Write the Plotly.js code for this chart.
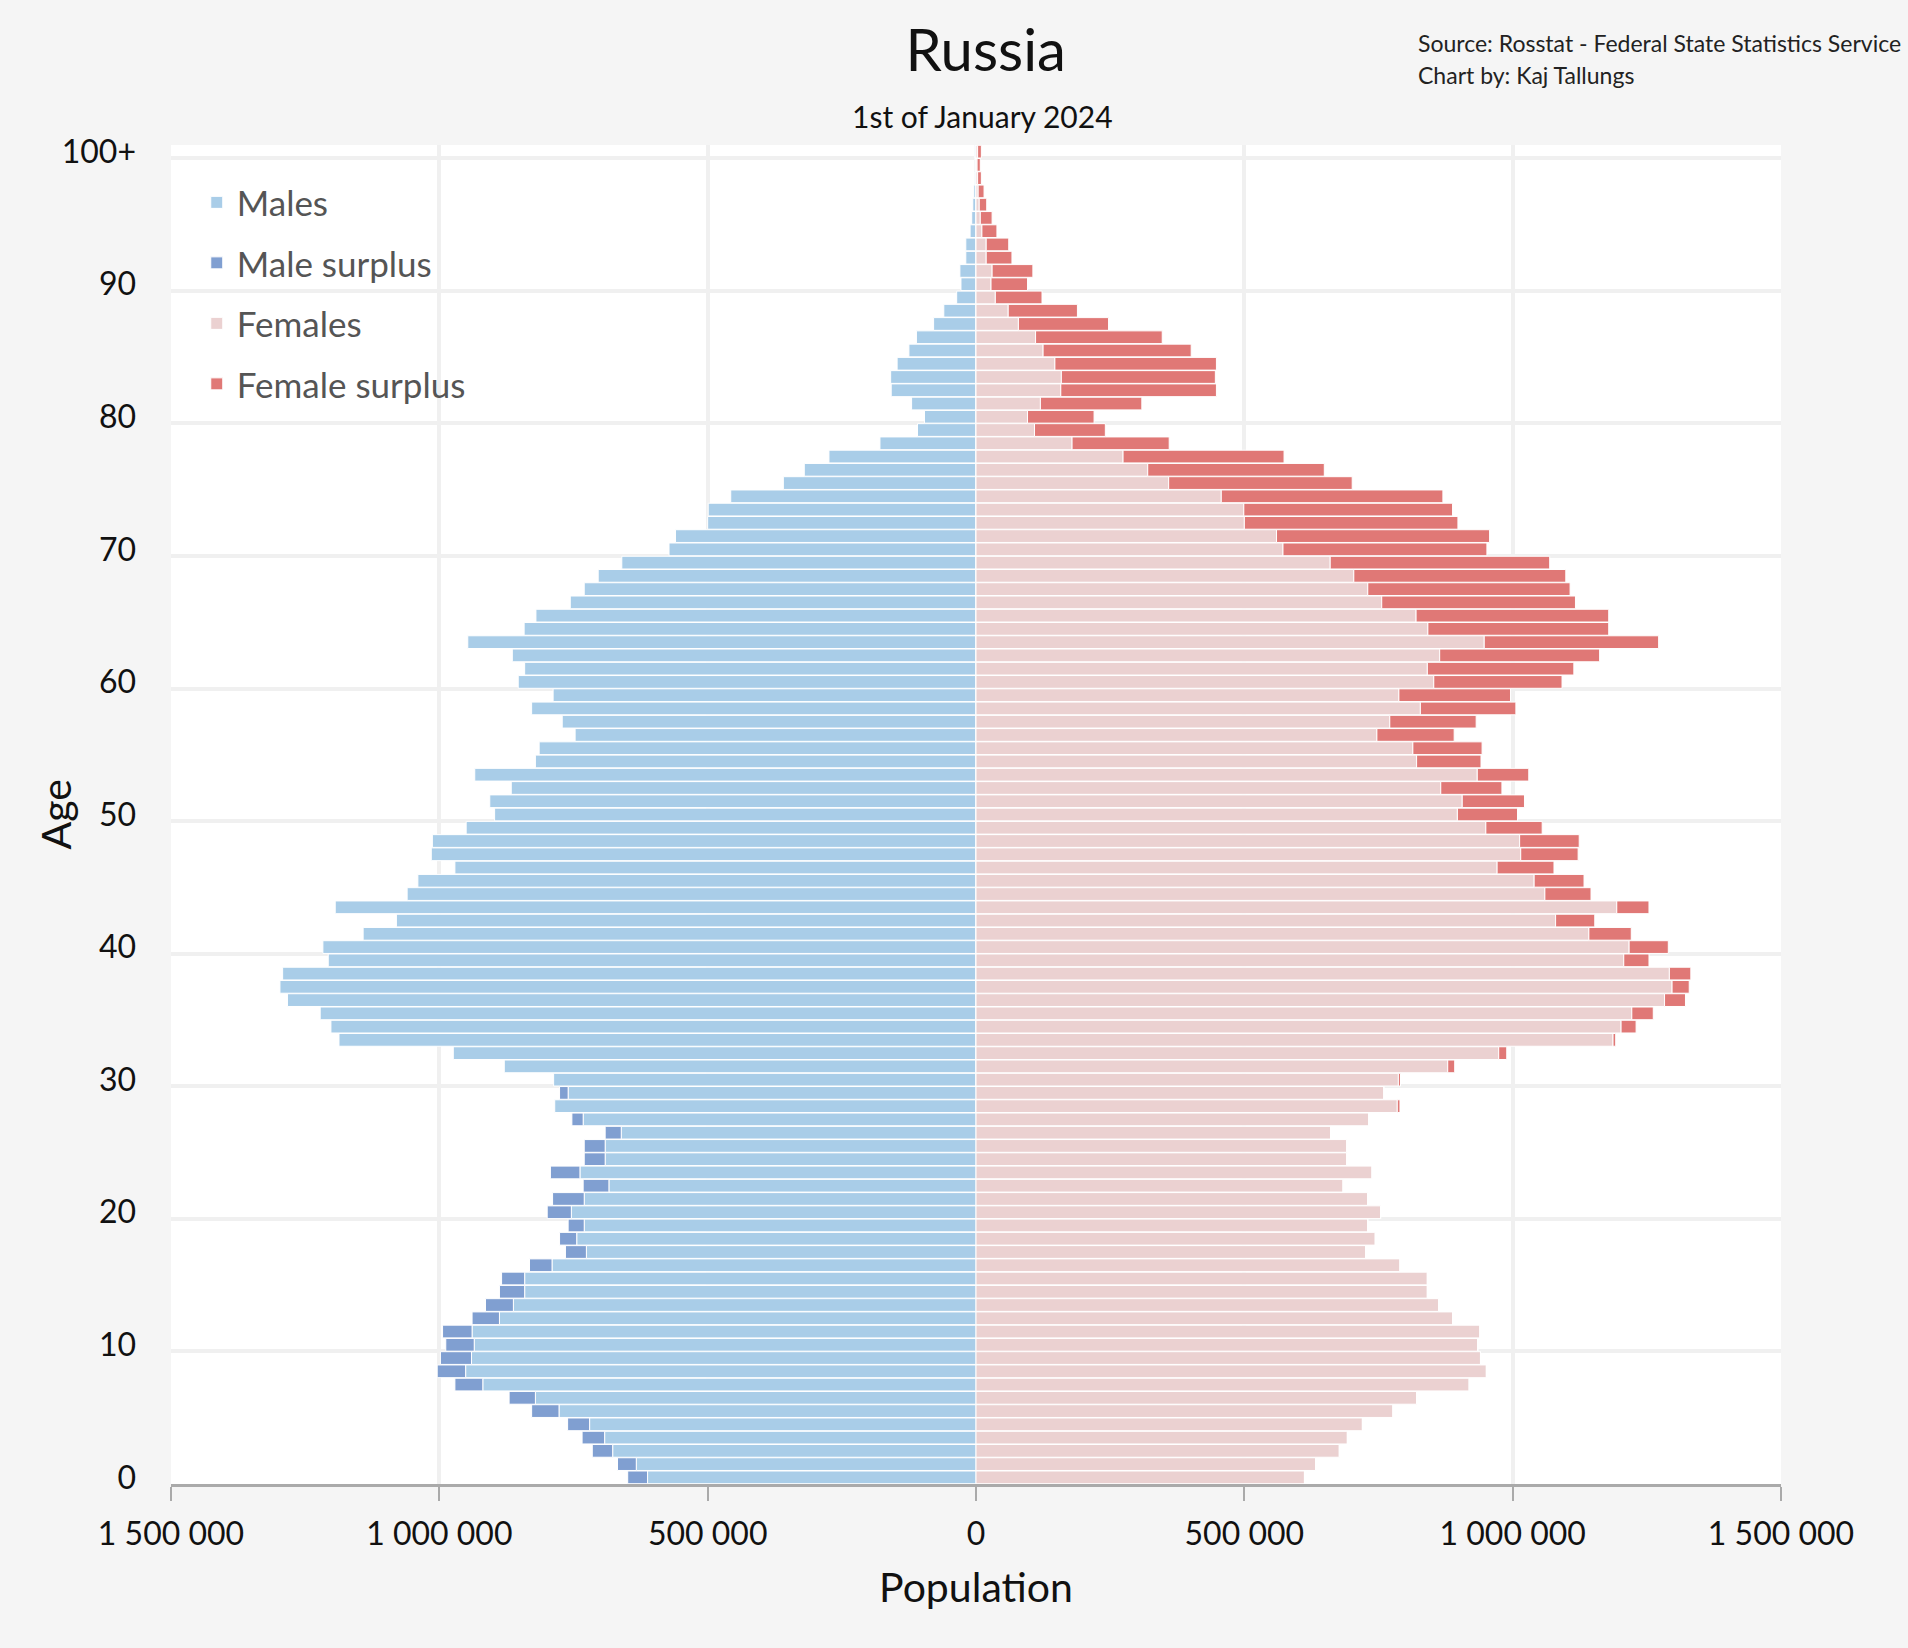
<!DOCTYPE html>
<html>
<head>
<meta charset="utf-8">
<script src="https://cdn.plot.ly/plotly-3.0.1.min.js"></script>
<style>
  html, body { margin: 0; padding: 0; background: #f5f5f5; }
  #chart { width: 1908px; height: 1648px; }
</style>
</head>
<body>
<div id="chart"></div>
<script>
/* -------------------- Data (thousands) -------------------- */

const ages = Array.from({ length: 101 }, (_, i) => i);

// age 0 .. 100+
const malesK = [
  649, 668, 715, 734, 761, 828, 870, 971, 1004, 998,
  988, 994, 939, 914, 888, 884, 832, 765, 776, 760,
  799, 789, 732, 793, 730, 730, 691, 753, 785, 776,
  787, 879, 974, 1187, 1202, 1222, 1283, 1297, 1292, 1207,
  1217, 1142, 1080, 1194, 1060, 1040, 971, 1015, 1013, 950,
  897, 906, 866, 934, 821, 814, 747, 771, 828, 788,
  853, 841, 864, 947, 842, 820, 756, 730, 704, 660,
  572, 560, 500, 499, 457, 359, 320, 274, 179, 109,
  96, 120, 158, 159, 147, 125, 111, 79, 60, 36,
  28, 30, 19, 19, 11, 8, 6, 4, 3, 2,
  3,
];

const femalesK = [
  612, 633, 677, 692, 720, 777, 821, 919, 951, 940,
  935, 939, 888, 862, 841, 841, 790, 726, 744, 730,
  754, 730, 684, 738, 691, 691, 661, 732, 790, 760,
  791, 892, 989, 1192, 1230, 1262, 1322, 1329, 1332, 1254,
  1290, 1221, 1153, 1254, 1146, 1133, 1077, 1122, 1124, 1055,
  1009, 1022, 980, 1030, 941, 943, 891, 932, 1006, 996,
  1092, 1114, 1162, 1272, 1179, 1179, 1117, 1107, 1099, 1069,
  952, 957, 898, 888, 870, 701, 649, 574, 360, 241,
  220, 309, 448, 446, 448, 401, 347, 247, 189, 123,
  96, 106, 67, 61, 39, 30, 20, 15, 10, 8,
  10,
];

const ageTicks = [0, 10, 20, 30, 40, 50, 60, 70, 80, 90, 100];
const ageTickText = ["0", "10", "20", "30", "40", "50", "60", "70", "80", "90", "100+"];
const popTicks = [-1500000, -1000000, -500000, 0, 500000, 1000000, 1500000];

/* -------------------- Helpers -------------------- */

function spaced(n) {
  return String(Math.abs(n)).replace(/\B(?=(\d{3})+(?!\d))/g, " ");
}

const males = malesK.map((v) => v * 1000);
const females = femalesK.map((v) => v * 1000);
const common = males.map((m, i) => Math.min(m, females[i]));
const maleSurplus = males.map((m, i) => Math.max(0, m - females[i]));
const femaleSurplus = females.map((f, i) => Math.max(0, f - males[i]));

const barLine = { color: "#ffffff", width: 1 };

function barTrace(name, xs, color, group) {
  return {
    type: "bar",
    orientation: "h",
    name: name,
    y: ages,
    x: xs,
    legendgroup: group,
    marker: { color: color, line: barLine },
    hoverinfo: "skip",
  };
}

/* -------------------- Traces -------------------- */

const traces = [
  barTrace("Males", common.map((v) => -v), "#a9cde8", "g1"),
  barTrace("Male surplus", maleSurplus.map((v) => -v), "#809fd1", "g2"),
  barTrace("Females", common, "#ebd1d1", "g3"),
  barTrace("Female surplus", femaleSurplus, "#e07876", "g4"),
];

// a dummy trace on y2 so the overlaid grid axis is drawn
traces.push({
  type: "scatter",
  x: [0],
  y: [50],
  yaxis: "y2",
  mode: "markers",
  marker: { opacity: 0 },
  showlegend: false,
  hoverinfo: "skip",
});

/* -------------------- Layout -------------------- */

const layout = {
  width: 1908,
  height: 1648,
  margin: { t: 145, l: 171, r: 127, b: 164 },
  paper_bgcolor: "#f5f5f5",
  plot_bgcolor: "#ffffff",
  font: { family: "Lato, 'Open Sans', sans-serif", color: "#111111" },
  barmode: "relative",
  bargap: 0.04,
  showlegend: true,
  legend: {
    x: 0.016,
    y: 0.979,
    xanchor: "left",
    yanchor: "top",
    bgcolor: "rgba(0,0,0,0)",
    font: { size: 35, color: "#555555" },
    traceorder: "grouped",
    tracegroupgap: 12,
  },
  title: {
    text: "Russia",
    x: 0.506,
    xref: "paper",
    xanchor: "center",
    y: 0.969,
    yanchor: "middle",
    font: { size: 58, color: "#111111" },
  },
  xaxis: {
    range: [-1500000, 1500000],
    tickvals: popTicks,
    ticktext: popTicks.map(spaced),
    tickfont: { size: 32, color: "#111111" },
    ticks: "outside",
    ticklen: 14,
    tickwidth: 2,
    tickcolor: "#aaaaaa",
    ticklabelstandoff: 6,
    showline: true,
    linecolor: "#aaaaaa",
    linewidth: 3,
    showgrid: true,
    gridcolor: "#f0f0f0",
    gridwidth: 4,
    zeroline: false,
    fixedrange: true,
    title: {
      text: "Population",
      font: { size: 41, color: "#111111" },
      standoff: 22,
    },
  },
  yaxis: {
    range: [-0.5, 100.5],
    tickvals: ageTicks,
    ticktext: ageTickText,
    tickfont: { size: 32, color: "#111111" },
    ticks: "",
    ticklabelstandoff: 34,
    showgrid: false,
    zeroline: false,
    fixedrange: true,
  },
  // gridlines sit between age bands, so they come from an overlaid axis
  yaxis2: {
    overlaying: "y",
    range: [-0.5, 100.5],
    tickvals: ageTicks.slice(1).map((a) => a - 0.5),
    showticklabels: false,
    ticks: "",
    showgrid: true,
    gridcolor: "#f0f0f0",
    gridwidth: 4,
    zeroline: false,
    fixedrange: true,
  },
  annotations: [
    {
      text: "Age",
      xref: "paper", yref: "paper",
      x: -0.072, y: 0.5,
      xanchor: "center", yanchor: "middle",
      textangle: -90,
      showarrow: false,
      font: { size: 41, color: "#111111" },
    },
    {
      text: "1st of January 2024",
      xref: "paper", yref: "paper",
      x: 0.504, y: 1.022,
      xanchor: "center", yanchor: "middle",
      showarrow: false,
      font: { size: 30, color: "#111111" },
    },
    {
      text: "Source: Rosstat - Federal State Statistics Service",
      xref: "paper", yref: "paper",
      x: 0.773, y: 1.076,
      xanchor: "left", yanchor: "middle",
      showarrow: false,
      font: { size: 23, color: "#222222" },
    },
    {
      text: "Chart by: Kaj Tallungs",
      xref: "paper", yref: "paper",
      x: 0.773, y: 1.052,
      xanchor: "left", yanchor: "middle",
      showarrow: false,
      font: { size: 23, color: "#222222" },
    },
  ],
};

Plotly.newPlot("chart", traces, layout, {
  displayModeBar: false,
  responsive: false,
  staticPlot: true,
});
</script>
</body>
</html>
